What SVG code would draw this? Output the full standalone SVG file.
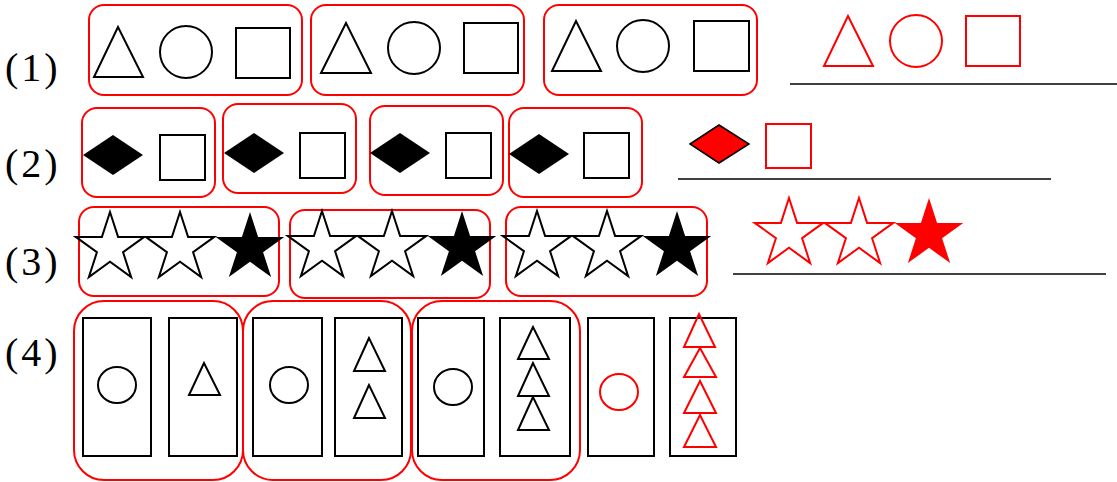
<svg xmlns="http://www.w3.org/2000/svg" xmlns:xlink="http://www.w3.org/1999/xlink" width="1117" height="482" viewBox="0 0 1117 482">
<style>
.lbl{font-family:"Liberation Serif","Times New Roman",serif;font-size:40px;fill:#000;letter-spacing:3px}
.grp{fill:none;stroke:#f00;stroke-width:2}
.k{fill:none;stroke:#000;stroke-width:2}
.r{fill:none;stroke:#f00;stroke-width:2}
.kf{fill:#000;stroke:none}
.rf{fill:#f00;stroke:none}
.ans{stroke:#000;stroke-width:1.5}
</style>
<defs>
<polygon id="star" points="0,-36 8.08,-11.12 34.24,-11.12 13.08,4.25 21.16,29.12 0,13.75 -21.16,29.12 -13.08,4.25 -34.24,-11.12 -8.08,-11.12"/>
<polygon id="dia" points="-30,0 0,-20 30,0 0,20"/>
</defs>
<rect width="1117" height="482" fill="#fff"/>

<g id="labels">
<text class="lbl" x="5" y="81">(1)</text>
<text class="lbl" x="5" y="177">(2)</text>
<text class="lbl" x="5" y="275">(3)</text>
<text class="lbl" x="5" y="366">(4)</text>
</g>

<g id="row1">
<g id="r1g1">
<rect class="grp" x="89" y="5" width="213" height="90" rx="15"/>
<polygon class="k" points="118,27 94,77 143,77"/>
<circle class="k" cx="186" cy="52" r="26"/>
<rect class="k" x="236" y="28" width="54" height="50"/>
</g>
<g id="r1g2">
<rect class="grp" x="311" y="5" width="213" height="90" rx="15"/>
<polygon class="k" points="346,23 321,73 371,73"/>
<circle class="k" cx="414" cy="48" r="26"/>
<rect class="k" x="464" y="23" width="54" height="50"/>
</g>
<g id="r1g3">
<rect class="grp" x="544" y="5" width="213" height="90" rx="15"/>
<polygon class="k" points="576,21 552,71 601,71"/>
<circle class="k" cx="643" cy="46" r="26"/>
<rect class="k" x="694" y="21" width="55" height="50"/>
</g>
<g id="r1ans">
<polygon class="r" points="848,16 824,66 873,66"/>
<circle class="r" cx="916" cy="41" r="26"/>
<rect class="r" x="966" y="16" width="54" height="50"/>
<line class="ans" x1="790" y1="84" x2="1117" y2="84"/>
</g>
</g>

<g id="row2">
<g id="r2g1">
<rect class="grp" x="82" y="108" width="133" height="89" rx="15"/>
<use href="#dia" class="kf" x="113" y="155"/>
<rect class="k" x="160" y="135" width="45" height="45"/>
</g>
<g id="r2g2">
<rect class="grp" x="223" y="104" width="133" height="89" rx="15"/>
<use href="#dia" class="kf" x="254" y="153"/>
<rect class="k" x="300" y="133" width="45" height="45"/>
</g>
<g id="r2g3">
<rect class="grp" x="370" y="106" width="133" height="89" rx="15"/>
<use href="#dia" class="kf" x="400" y="153"/>
<rect class="k" x="446" y="133" width="45" height="45"/>
</g>
<g id="r2g4">
<rect class="grp" x="509" y="108" width="133" height="89" rx="15"/>
<use href="#dia" class="kf" x="539" y="154"/>
<rect class="k" x="584" y="133" width="45" height="45"/>
</g>
<g id="r2ans">
<polygon points="690,144 719,125 749,144 719,163" fill="#f00" stroke="#000" stroke-width="1.5"/>
<rect class="r" x="766" y="124" width="45" height="44"/>
<line class="ans" x1="678" y1="179" x2="1051" y2="179"/>
</g>
</g>

<g id="row3">
<g id="r3g1">
<rect class="grp" x="79" y="207" width="200" height="89" rx="15"/>
<use href="#star" class="k" x="110" y="248"/>
<use href="#star" class="k" x="180" y="248"/>
<use href="#star" class="kf" x="250" y="248"/>
</g>
<g id="r3g2">
<rect class="grp" x="290" y="210" width="200" height="88" rx="15"/>
<use href="#star" class="k" x="322" y="247"/>
<use href="#star" class="k" x="392" y="247"/>
<use href="#star" class="kf" x="462" y="247"/>
</g>
<g id="r3g3">
<rect class="grp" x="506" y="207" width="201" height="89" rx="15"/>
<use href="#star" class="k" x="537" y="247"/>
<use href="#star" class="k" x="607" y="247"/>
<use href="#star" class="kf" x="677" y="247"/>
</g>
<g id="r3ans">
<use href="#star" class="r" x="789" y="234"/>
<use href="#star" class="r" x="859" y="234"/>
<use href="#star" class="rf" x="929" y="234"/>
<line class="ans" x1="733" y1="274" x2="1106" y2="274"/>
</g>
</g>

<g id="row4">
<g id="r4g1">
<rect class="grp" x="74" y="301" width="169" height="179" rx="30"/>
<rect class="k" x="83" y="318" width="68" height="138"/>
<ellipse class="k" cx="117" cy="385" rx="19" ry="18"/>
<rect class="k" x="169" y="318" width="68" height="138"/>
<polygon class="k" points="204,363 189,395 220,395"/>
</g>
<g id="r4g2">
<rect class="grp" x="243" y="301" width="168" height="179" rx="30"/>
<rect class="k" x="253" y="318" width="69" height="138"/>
<ellipse class="k" cx="289" cy="385" rx="19" ry="18"/>
<rect class="k" x="335" y="318" width="67" height="138"/>
<polygon class="k" points="369,338 354,371 385,371"/>
<polygon class="k" points="369,385 354,418 385,418"/>
</g>
<g id="r4g3">
<rect class="grp" x="412" y="301" width="168" height="179" rx="30"/>
<rect class="k" x="418" y="318" width="66" height="138"/>
<ellipse class="k" cx="453" cy="387" rx="19" ry="18"/>
<rect class="k" x="500" y="318" width="70" height="138"/>
<polygon class="k" points="533,327 518,359 549,359"/>
<polygon class="k" points="533,363 518,396 549,396"/>
<polygon class="k" points="533,397 518,430 549,430"/>
</g>
<g id="r4ans">
<rect class="k" x="588" y="318" width="66" height="138"/>
<ellipse class="r" cx="619" cy="392" rx="19" ry="18"/>
<rect class="k" x="670" y="318" width="66" height="138"/>
<polygon class="r" points="699,314 684,347 715,347"/>
<polygon class="r" points="700,348 684,377 716,377"/>
<polygon class="r" points="700,381 684,413 716,413"/>
<polygon class="r" points="700,415 684,447 716,447"/>
</g>
</g>
</svg>
